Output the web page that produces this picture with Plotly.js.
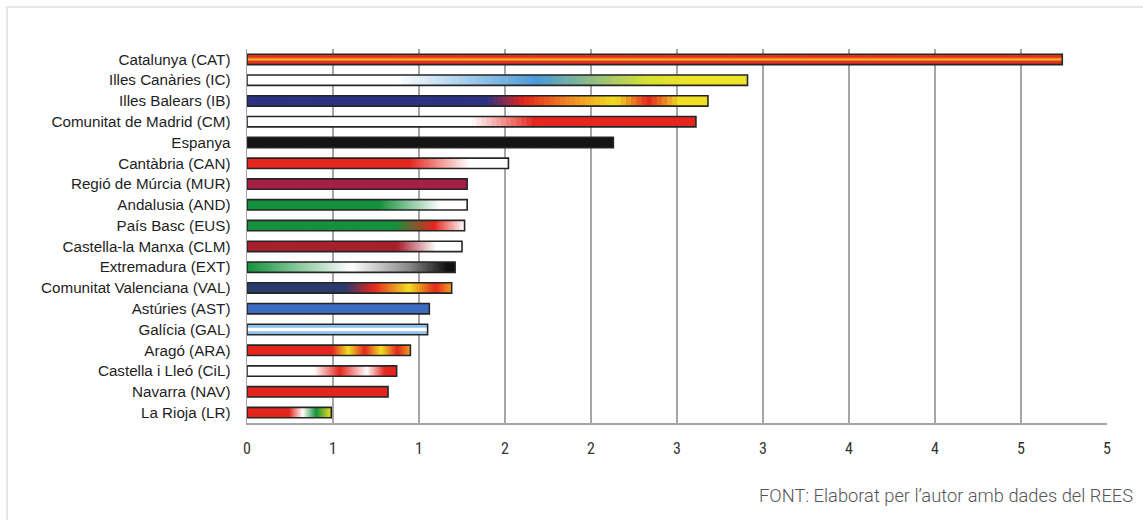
<!DOCTYPE html>
<html>
<head>
<meta charset="utf-8">
<script src="https://cdn.plot.ly/plotly-3.0.1.min.js"></script>
<style>
  html, body { margin: 0; padding: 0; background: #ffffff; }
  #wrap { position: relative; width: 1143px; height: 520px; overflow: hidden; }
  #frame { position: absolute; left: 6px; top: 6px; width: 1160px; height: 540px;
           border-left: 2px solid #e6e6e6; border-top: 2px solid #e6e6e6; pointer-events: none; }
  #chart { position: absolute; left: 0; top: 0; width: 1143px; height: 520px; }
</style>
</head>
<body>
<div id="wrap">
  <div id="chart"></div>
  <div id="frame"></div>
</div>
<script>
// ---- data ----
const categories = [
  'Catalunya (CAT)', 'Illes Canàries (IC)', 'Illes Balears (IB)', 'Comunitat de Madrid (CM)',
  'Espanya', 'Cantàbria (CAN)', 'Regió de Múrcia (MUR)', 'Andalusia (AND)', 'País Basc (EUS)',
  'Castella-la Manxa (CLM)', 'Extremadura (EXT)', 'Comunitat Valenciana (VAL)', 'Astúries (AST)',
  'Galícia (GAL)', 'Aragó (ARA)', 'Castella i Lleó (CiL)', 'Navarra (NAV)', 'La Rioja (LR)'
];
const values = [4.74, 2.91, 2.68, 2.61, 2.13, 1.52, 1.28, 1.28, 1.265, 1.25, 1.21, 1.19, 1.06, 1.05, 0.95, 0.87, 0.82, 0.49];
const tickVals = [0, 0.5, 1, 1.5, 2, 2.5, 3, 3.5, 4, 4.5, 5];
const tickLabels = ['0', '1', '1', '2', '2', '3', '3', '4', '4', '5', '5'];
const sourceText = 'FONT: Elaborat per l’autor amb dades del REES';

// ---- styles: flag-like colour gradients along each bar (fraction of bar length) ----
const gradients = [
  [[0, '#e3321e'], [1, '#e3321e']],
  [[0, '#ffffff'], [0.3, '#ffffff'], [0.58, '#4a9ad8'], [0.8, '#d8e030'], [0.9, '#f0e428'], [1, '#f0e428']],
  [[0, '#2b3282'], [0.52, '#2b3282'], [0.6, '#e4261e'], [0.7, '#f08a20'], [0.8, '#f0e024'], [0.87, '#e4261e'], [0.94, '#f0e024'], [1, '#f0e024']],
  [[0, '#ffffff'], [0.5, '#ffffff'], [0.64, '#e4261e'], [1, '#e4261e']],
  [[0, '#141414'], [1, '#141414']],
  [[0, '#e4261e'], [0.62, '#e4261e'], [0.85, '#ffffff'], [1, '#ffffff']],
  [[0, '#a51f47'], [1, '#a51f47']],
  [[0, '#15913d'], [0.6, '#15913d'], [0.88, '#ffffff'], [1, '#ffffff']],
  [[0, '#15913d'], [0.68, '#15913d'], [0.86, '#e4261e'], [1, '#ffffff']],
  [[0, '#a8202e'], [0.7, '#a8202e'], [0.88, '#ffffff'], [1, '#ffffff']],
  [[0, '#15913d'], [0.5, '#ffffff'], [0.78, '#888888'], [0.96, '#111111'], [1, '#111111']],
  [[0, '#2a3a6a'], [0.48, '#2a3a6a'], [0.62, '#e4261e'], [0.79, '#f0e024'], [0.92, '#e4261e'], [1, '#f0a020']],
  [[0, '#3b6cc0'], [1, '#3b6cc0']],
  [[0, '#8ec0ec'], [1, '#8ec0ec']],
  [[0, '#e4261e'], [0.52, '#e4261e'], [0.62, '#f0e024'], [0.72, '#e4261e'], [0.82, '#f0e024'], [0.92, '#e4261e'], [1, '#f0a020']],
  [[0, '#ffffff'], [0.45, '#ffffff'], [0.62, '#e4261e'], [0.8, '#ffffff'], [0.92, '#e4261e'], [1, '#e4261e']],
  [[0, '#e4261e'], [1, '#e4261e']],
  [[0, '#e4261e'], [0.5, '#e4261e'], [0.66, '#ffffff'], [0.82, '#15913d'], [1, '#f0e024']]
];
// narrow horizontal stripes (only some flags)
const stripes = {
  'Catalunya (CAT)': [{w: 0.16, c: '#f07a22'}, {w: 0.06, c: '#f5b525'}],
  'Galícia (GAL)': [{w: 0.16, c: '#ffffff'}]
};

function hex2rgb(h) { return [parseInt(h.slice(1,3),16), parseInt(h.slice(3,5),16), parseInt(h.slice(5,7),16)]; }
function colorAt(stops, f) {
  for (let i = 0; i < stops.length - 1; i++) {
    const [p0, c0] = stops[i], [p1, c1] = stops[i+1];
    if (f >= p0 && f <= p1) {
      const t = p1 === p0 ? 0 : (f - p0) / (p1 - p0);
      const a = hex2rgb(c0), b = hex2rgb(c1);
      return 'rgb(' + a.map((v, k) => Math.round(v + (b[k] - v) * t)).join(',') + ')';
    }
  }
  return stops[stops.length - 1][1];
}

const BAR_W = 0.5;
const N = 90;
const traces = [];
// widest layer first; each narrower layer painted over it from the axis, so no seams appear
for (let k = N - 1; k >= 0; k--) {
  const fm = (k + 0.5) / N;
  const cols = gradients.map(g => colorAt(g, fm));
  traces.push({
    type: 'bar', orientation: 'h',
    y: categories,
    x: values.map(v => v * (k + 1) / N),
    base: values.map(() => 0),
    width: BAR_W,
    marker: { color: cols, line: { width: 0 } },
    hoverinfo: 'skip', showlegend: false
  });
}
Object.keys(stripes).forEach(cat => {
  const idx = categories.indexOf(cat);
  stripes[cat].forEach(s => {
    traces.push({
      type: 'bar', orientation: 'h',
      y: [cat], x: [values[idx]], base: [0], width: s.w,
      marker: { color: s.c, line: { width: 0 } },
      hoverinfo: 'skip', showlegend: false
    });
  });
});
// outline
traces.push({
  type: 'bar', orientation: 'h',
  y: categories, x: values, base: values.map(() => 0), width: BAR_W,
  marker: { color: 'rgba(0,0,0,0)', line: { color: '#262626', width: 1.6 } },
  hoverinfo: 'skip', showlegend: false
});

const layout = {
  width: 1143, height: 520,
  margin: { l: 247, r: 36, t: 49, b: 97 },
  paper_bgcolor: '#ffffff', plot_bgcolor: '#ffffff',
  barmode: 'overlay',
  showlegend: false,
  xaxis: {
    range: [0, 5], tickvals: tickVals, ticktext: tickLabels,
    showgrid: true, gridcolor: '#a6a6a6', gridwidth: 1.5,
    zeroline: false, showline: true, linecolor: '#a6a6a6', linewidth: 1.5,
    ticks: '', ticklabelstandoff: 10,
    tickfont: { family: 'Roboto Condensed, Liberation Sans Narrow, DejaVu Sans Condensed, sans-serif', size: 16, color: '#333333' },
    fixedrange: true
  },
  yaxis: {
    type: 'category', autorange: 'reversed',
    categoryorder: 'array', categoryarray: categories,
    showgrid: false, zeroline: false, showline: true, linecolor: '#a6a6a6', linewidth: 1.5,
    ticks: '', ticklabelstandoff: 12,
    tickfont: { family: 'Liberation Sans, Arial, sans-serif', size: 15.2, color: '#1e1e1e' },
    fixedrange: true
  },
  annotations: [{
    text: sourceText, xref: 'paper', yref: 'paper', x: 1.0326, y: -0.195,
    xanchor: 'right', yanchor: 'middle', showarrow: false,
    font: { family: 'Roboto, sans-serif', size: 18.3, color: '#555555', weight: 300 }
  }]
};

Plotly.newPlot('chart', traces, layout, { staticPlot: true, displayModeBar: false });
</script>
</body>
</html>
